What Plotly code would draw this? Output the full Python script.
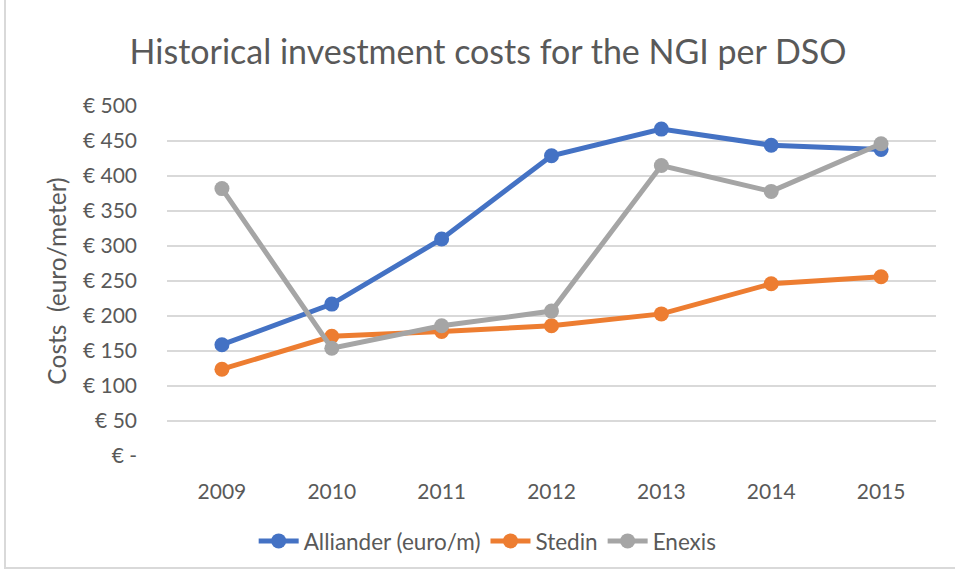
import plotly.graph_objects as go

years = ["2009", "2010", "2011", "2012", "2013", "2014", "2015"]
alliander = [159, 217, 310, 429, 467, 444, 438]
stedin = [124, 171, 178, 186, 203, 246, 256]
enexis = [382, 154, 186, 207, 415, 378, 446]
tick_vals = [0, 50, 100, 150, 200, 250, 300, 350, 400, 450, 500]
tick_text = ["€ -", "€ 50", "€ 100", "€ 150", "€ 200", "€ 250", "€ 300", "€ 350", "€ 400", "€ 450", "€ 500"]

series = [
    ("Alliander (euro/m)", alliander, "#4472C4"),
    ("Stedin", stedin, "#ED7D31"),
    ("Enexis", enexis, "#A5A5A5"),
]

fig = go.Figure()
for name, vals, col in series:
    fig.add_trace(go.Scatter(
        x=years, y=vals, name=name, mode="lines+markers",
        line=dict(color=col, width=5),
        marker=dict(color=col, size=15),
    ))

font_family = "Lato, Open Sans, sans-serif"
fig.update_layout(
    width=955, height=575,
    margin=dict(l=167, r=19, t=106, b=116),
    paper_bgcolor="white", plot_bgcolor="white",
    font=dict(family=font_family, color="#595959", size=21),
    title=dict(text="Historical investment costs for the NGI per DSO",
               x=0.511, xanchor="center", y=0.91, yanchor="middle",
               font=dict(size=34, color="#595959", family=font_family)),
    showlegend=True,
    legend=dict(orientation="h", x=0.417, xanchor="center", y=-0.2436, yanchor="middle",
                font=dict(size=22.5, color="#595959"), itemwidth=40,
                traceorder="normal"),
    xaxis=dict(range=[-0.5, 6.5], showgrid=False, showline=False, zeroline=False,
               tickfont=dict(size=21, color="#595959"), ticks="", ticklabelstandoff=21),
    yaxis=dict(range=[0, 500], tickvals=tick_vals, ticktext=tick_text,
               showgrid=True, gridcolor="#D9D9D9", gridwidth=1.5, zeroline=False,
               showline=False, ticks="", ticklabelstandoff=29,
               tickfont=dict(size=21, color="#595959"),
               title=dict(text="Costs  (euro/meter)", font=dict(size=24.5, color="#595959"), standoff=9)),
)
fig.add_shape(type="rect", xref="paper", yref="paper",
              x0=-162/769, x1=1 + 60/769, y0=-113/353, y1=1 + 140/353,
              line=dict(color="#D9D9D9", width=2), fillcolor="rgba(0,0,0,0)")
fig.write_html("out.html", config={"displayModeBar": False},
               post_script="document.body.style.margin='0px';")
